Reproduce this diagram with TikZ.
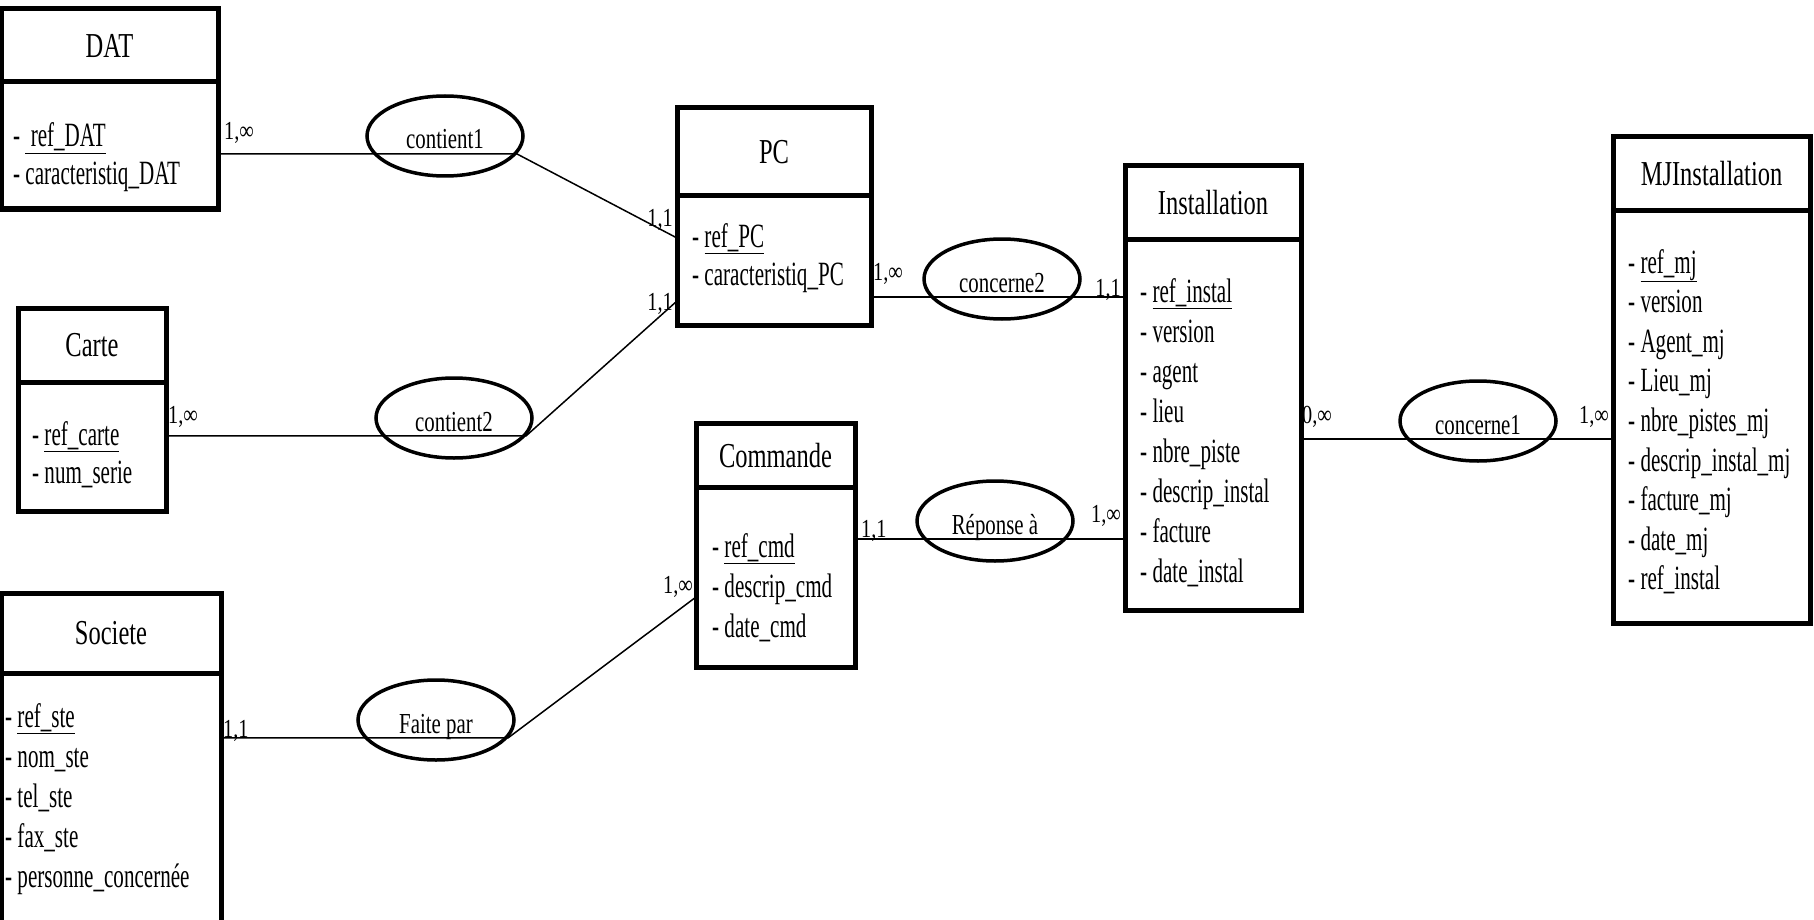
\documentclass[tikz,border=0pt]{standalone}
\usepackage{fontspec}
\setmainfont{Liberation Serif}
\newfontfamily\titlefont{Liberation Serif}[FakeStretch=0.70]
\newfontfamily\attrfont{Liberation Serif}[FakeStretch=0.62]
\newfontfamily\relfont{Liberation Serif}[FakeStretch=0.72]
\newfontfamily\cardfont{Liberation Serif}[FakeStretch=0.78]
\usetikzlibrary{positioning,shapes.geometric}
\tikzset{
  enthead/.style={draw, line width=5pt, outer sep=0pt, inner sep=0pt, anchor=north west, text depth=0pt, font=\titlefont\fontsize{35}{40}\selectfont},
  entbody/.style={draw, line width=5pt, outer sep=0pt, inner sep=0pt},
  attr/.style={anchor=base west, inner sep=0pt, font=\attrfont\fontsize{34}{40}\selectfont},
  rel/.style={draw, ellipse, line width=3.5pt, minimum width=156pt, minimum height=80pt, inner sep=0pt, text height=26pt, text depth=0pt, font=\relfont\fontsize{29}{32}\selectfont},
  card/.style={inner sep=0pt, font=\cardfont\fontsize{26}{30}\selectfont},
  link/.style={line width=1.5pt}
}
\begin{document}
\begin{tikzpicture}[x=1pt, y=-1pt]
\useasboundingbox (0,0) rectangle (1814,920);
\clip (0,0) rectangle (1814,920);

\node[enthead, minimum width=217pt, minimum height=73pt] (datH) at (1,9) {DAT};
\node[entbody, minimum width=217pt, minimum height=127pt, below=0pt of datH] (datB) {};
\foreach \a [count=\i from 0] in {\underline{\ ref\_DAT}, caracteristiq\_DAT}
  \node[attr] (dat-\i) at (13,{147+38*\i}) {- \a};

\node[enthead, minimum width=148pt, minimum height=74pt] (carteH) at (18,308) {Carte};
\node[entbody, minimum width=148pt, minimum height=129pt, below=0pt of carteH] (carteB) {};
\foreach \a [count=\i from 0] in {\underline{ref\_carte}, num\_serie}
  \node[attr] (carte-\i) at (32,{445+38*\i}) {- \a};

\node[enthead, minimum width=220pt, minimum height=80pt] (steH) at (1,593) {Societe};
\node[entbody, minimum width=220pt, minimum height=260pt, below=0pt of steH] (steB) {};
\foreach \a [count=\i from 0] in {\underline{ref\_ste}, nom\_ste, tel\_ste, fax\_ste, personne\_concernée}
  \node[attr] (ste-\i) at (5,{727+40*\i}) {- \a};

\node[enthead, minimum width=194pt, minimum height=88pt] (pcH) at (677,108) {PC};
\node[entbody, minimum width=194pt, minimum height=129pt, below=0pt of pcH] (pcB) {};
\foreach \a [count=\i from 0] in {\underline{ref\_PC}, caracteristiq\_PC}
  \node[attr] (pc-\i) at (692,{247+38*\i}) {- \a};

\node[enthead, minimum width=159pt, minimum height=64pt] (cmdH) at (696,423) {Commande};
\node[entbody, minimum width=159pt, minimum height=180pt, below=0pt of cmdH] (cmdB) {};
\foreach \a [count=\i from 0] in {\underline{ref\_cmd}, descrip\_cmd, date\_cmd}
  \node[attr] (cmd-\i) at (712,{557+40*\i}) {- \a};

\node[enthead, minimum width=176pt, minimum height=73pt] (instH) at (1125,166) {Installation};
\node[entbody, minimum width=176pt, minimum height=371pt, below=0pt of instH] (instB) {};
\foreach \a [count=\i from 0] in {\underline{ref\_instal}, version, agent, lieu, nbre\_piste, descrip\_instal, facture, date\_instal}
  \node[attr] (inst-\i) at (1140,{302+40*\i}) {- \a};

\node[enthead, minimum width=197pt, minimum height=73pt] (mjH) at (1613,137) {MJInstallation};
\node[entbody, minimum width=197pt, minimum height=413pt, below=0pt of mjH] (mjB) {};
\foreach \a [count=\i from 0] in {\underline{ref\_mj}, version, Agent\_mj, Lieu\_mj, nbre\_pistes\_mj, descrip\_instal\_mj, facture\_mj, date\_mj, ref\_instal}
  \node[attr] (mj-\i) at (1628,{273+39.6*\i}) {- \a};

\node[rel] (c1) at (445,136) {contient1};
\node[rel] (c2) at (454,418) {contient2};
\node[rel] (fp) at (436,720) {Faite par};
\node[rel] (cc2) at (1002,279) {concerne2};
\node[rel] (rep) at (995,521) {Réponse à};
\node[rel] (cc1) at (1478,421) {concerne1};

\draw[link] (datB.east |- c1.-14.5) -- (c1.-14.5) -- ([yshift=22.5pt]pcB.west);
\draw[link] (carteB.east |- c2.-14.5) -- (c2.-14.5) -- ([yshift=-40.5pt]pcB.west);
\draw[link] (steB.east |- fp.-14.5) -- (fp.-14.5) -- ([yshift=-20pt]cmdB.west);
\draw[link] (pcB.east |- cc2.-14.5) -- (instB.west |- cc2.-14.5);
\draw[link] (cmdB.east |- rep.-14.5) -- (instB.west |- rep.-14.5);
\draw[link] (instB.east |- cc1.-14.5) -- (mjB.west |- cc1.-14.5);

\node[card, anchor=base west] (c1a) at (224,140) {1,∞};
\node[card, anchor=base east] (c1b) at (673,226) {1,1};
\node[card, anchor=base west] (c2a) at (168,423) {1,∞};
\node[card, anchor=base east] (c2b) at (673,310) {1,1};
\node[card, anchor=base west] (fpa) at (223,737) {1,1};
\node[card, anchor=base east] (fpb) at (693,593) {1,∞};
\node[card, anchor=base west] (cc2a) at (873,280) {1,∞};
\node[card, anchor=base east] (cc2b) at (1121,296) {1,1};
\node[card, anchor=base west] (repa) at (861,537) {1,1};
\node[card, anchor=base east] (repb) at (1121,522) {1,∞};
\node[card, anchor=base west] (cc1a) at (1302,423) {0,∞};
\node[card, anchor=base east] (cc1b) at (1609,423) {1,∞};
\end{tikzpicture}
\end{document}
